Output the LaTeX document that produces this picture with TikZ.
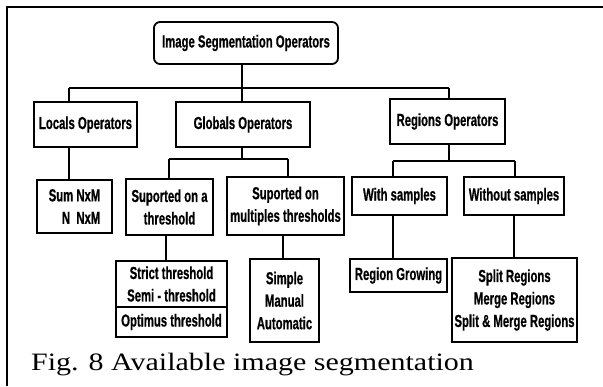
\documentclass[tikz,border=0pt]{standalone}
\usepackage{fontspec}
\newfontfamily\diagfont[FakeStretch=0.65,FakeBold=0.6]{Liberation Sans}
\newfontfamily\capfont[FakeStretch=1.2]{Liberation Serif}
\begin{document}
\begin{tikzpicture}[x=1pt,y=-1pt,
  box/.style={draw, line width=1.8pt, inner sep=0pt, align=center,
    font=\diagfont\bfseries\fontsize{17.4}{22.5}\selectfont},
  txt/.style={inner sep=0pt, align=center,
    font=\diagfont\bfseries\fontsize{17.4}{22.5}\selectfont},
  conn/.style={line width=1.5pt}]
\useasboundingbox (0,0) rectangle (603,386);
\fill[white] (0,0) rectangle (603,386);
\draw[line width=1.8pt] (7,386) -- (7,7) -- (603,7);

% level 0
\node[box, rounded corners=6pt, minimum width=184pt, minimum height=42pt] (root) at (246,43) {Image Segmentation Operators};
% level 1
\node[box, minimum width=103pt, minimum height=45pt] (locals) at (85.5,124.5) {Locals Operators};
\node[box, minimum width=134pt, minimum height=45pt] (globals) at (243,124.5) {Globals Operators};
\node[box, minimum width=115pt, minimum height=45pt] (regions) at (447.5,121.5) {Regions Operators};
% level 2
\node[box, minimum width=75pt, minimum height=53pt, align=right] (sum) at (74.5,206.5) {Sum NxM\\N\ \ NxM};
\node[box, minimum width=87pt, minimum height=56pt] (thr) at (169.5,207) {Suported on a\\threshold};
\node[box, minimum width=117pt, minimum height=58pt] (mult) at (285.5,206) {Suported on\\multiples thresholds};
\node[box, minimum width=95pt, minimum height=38pt] (with) at (399.5,196) {With samples};
\node[box, minimum width=100pt, minimum height=38pt] (without) at (514,196) {Without samples};
% level 3
\node[box, minimum width=111pt, minimum height=76pt] (strict) at (171.5,299) {};
\node[txt] (strictA) at (171.5,284) {Strict threshold\\Semi - threshold};
\node[txt] (strictB) at (171.5,322) {Optimus threshold};
\coordinate (sdiv) at (171.5,307);
\draw[line width=1.2pt] (strict.west |- sdiv) -- (strict.east |- sdiv);
\node[box, minimum width=69pt, minimum height=83pt] (simple) at (284.5,300.5) {Simple\\Manual\\Automatic};
\node[box, minimum width=97pt, minimum height=33pt] (growing) at (398.5,275.5) {Region Growing};
\node[box, minimum width=125pt, minimum height=84pt] (split) at (514.5,300) {Split Regions\\Merge Regions\\Split \& Merge Regions};

% connectors level 0-1
\coordinate (b1) at (242,88);
\coordinate (bL) at (69,88);
\coordinate (bR) at (449,88);
\draw[conn] (b1 |- root.south) -- (b1);
\draw[conn] (bL) -- (bR);
\draw[conn] (bL) -- (bL |- locals.north);
\draw[conn] (b1) -- (b1 |- globals.north);
\draw[conn] (bR) -- (bR |- regions.north);
% locals
\draw[conn] (locals.south -| bL) -- (sum.north -| bL);
% globals
\coordinate (g1) at (242,159);
\coordinate (gL) at (169,159);
\coordinate (gR) at (288,159);
\draw[conn] (globals.south -| g1) -- (g1);
\draw[conn] (gL) -- (gR);
\draw[conn] (gL) -- (gL |- thr.north);
\draw[conn] (gR) -- (gR |- mult.north);
% regions
\coordinate (r1) at (449,161);
\coordinate (rL) at (393,161);
\coordinate (rR) at (515,161);
\draw[conn] (regions.south -| r1) -- (r1);
\draw[conn] (rL) -- (rR);
\draw[conn] (rL) -- (rL |- with.north);
\draw[conn] (rR) -- (rR |- without.north);
% level 2-3
\coordinate (xt) at (166,250);
\coordinate (xm) at (283,250);
\coordinate (xw) at (393,250);
\coordinate (xo) at (514,250);
\draw[conn] (thr.south -| xt) -- (strict.north -| xt);
\draw[conn] (mult.south -| xm) -- (simple.north -| xm);
\draw[conn] (with.south -| xw) -- (growing.north -| xw);
\draw[conn] (without.south -| xo) -- (split.north -| xo);

% caption
\node[anchor=base west, inner sep=0pt, font=\capfont\fontsize{25}{28}\selectfont] (cap) at (31,370) {Fig. 8 Available image segmentation};
\end{tikzpicture}
\end{document}
